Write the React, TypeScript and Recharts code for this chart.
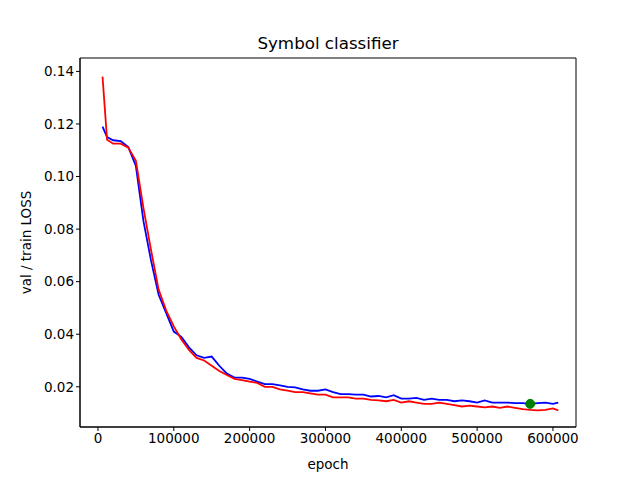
import React from 'react';
import {
  LineChart, Line, XAxis, YAxis, ReferenceDot, ReferenceArea, Label
} from 'recharts';

const epochs: number[] = [6000, 12000];
for (let e = 20000; e <= 600000; e += 10000) epochs.push(e);
epochs.push(607000);

const valLoss = [
  0.119, 0.115, 0.1138, 0.1135, 0.1112, 0.104, 0.083, 0.068, 0.055, 0.048,
  0.041, 0.039, 0.035, 0.032, 0.031, 0.0315, 0.028, 0.025, 0.0235, 0.0235,
  0.023, 0.022, 0.021, 0.021, 0.0205, 0.02, 0.0198, 0.019, 0.0185, 0.0185,
  0.019, 0.018, 0.0172, 0.0172, 0.017, 0.017, 0.0163, 0.0165, 0.016, 0.0168,
  0.0155, 0.0155, 0.0158, 0.015, 0.0155, 0.015, 0.015, 0.0145, 0.0148, 0.0145,
  0.014, 0.0148, 0.014, 0.014, 0.014, 0.0138, 0.0138, 0.0135, 0.0138, 0.014,
  0.0135, 0.014,
];

const trainLoss = [
  0.138, 0.114, 0.1125, 0.1125, 0.111, 0.106, 0.088, 0.072, 0.057, 0.049,
  0.043, 0.038, 0.034, 0.031, 0.03, 0.028, 0.026, 0.0245, 0.023, 0.0225,
  0.022, 0.0215, 0.02, 0.02, 0.019, 0.0185, 0.018, 0.018, 0.0175, 0.017,
  0.017, 0.016, 0.016, 0.016, 0.0155, 0.0155, 0.015, 0.0148, 0.0145, 0.015,
  0.014, 0.0145, 0.014, 0.0135, 0.0135, 0.014, 0.0135, 0.013, 0.0125, 0.0128,
  0.0125, 0.0122, 0.0125, 0.012, 0.0125, 0.012, 0.0115, 0.0112, 0.011, 0.0112,
  0.0118, 0.011,
];

const best = { epoch: 570000, loss: 0.0135 };
const xTicks = [0, 100000, 200000, 300000, 400000, 500000, 600000];
const yTicks = [0.02, 0.04, 0.06, 0.08, 0.1, 0.12, 0.14];

const data = epochs.map((epoch, i) => ({ epoch, val: valLoss[i], train: trainLoss[i] }));

const X_DOMAIN: [number, number] = [-23700, 630400];
const Y_DOMAIN: [number, number] = [0.0047, 0.1451];
const tickStyle = { fill: '#000', fontSize: 13.5 };

export default function App() {
  return (
    <div style={{ margin: -8, fontFamily: 'DejaVu Sans' }}>
      <LineChart width={640} height={480} data={data}
        margin={{ top: 58, right: 64, bottom: 23, left: 20 }}>
        <text x={328} y={49} textAnchor="middle" fontSize={16.7} fill="#000">Symbol classifier</text>
        <XAxis dataKey="epoch" type="number" domain={X_DOMAIN} ticks={xTicks}
          allowDataOverflow height={30} tick={tickStyle} stroke="#000"
          tickLine={{ stroke: '#000' }} tickSize={4}>
          <Label value="epoch" position="insideBottom" offset={-12} fill="#000" fontSize={13.5} />
        </XAxis>
        <YAxis type="number" domain={Y_DOMAIN} ticks={yTicks} allowDataOverflow width={60}
          tick={tickStyle} stroke="#000" tickSize={4} tickFormatter={(v: number) => v.toFixed(2)}>
          <Label value="val / train LOSS" angle={-90} position="insideLeft" offset={6}
            style={{ textAnchor: 'middle' }} fill="#000" fontSize={13.5} />
        </YAxis>
        <ReferenceArea x1={X_DOMAIN[0]} x2={X_DOMAIN[1]} y1={Y_DOMAIN[0]} y2={Y_DOMAIN[1]}
          fill="none" stroke="#000" strokeWidth={1} fillOpacity={0} />
        <Line dataKey="val" stroke="#0000ff" strokeWidth={1.8} dot={false} isAnimationActive={false} />
        <Line dataKey="train" stroke="#ff0000" strokeWidth={1.8} dot={false} isAnimationActive={false} />
        <ReferenceDot x={best.epoch} y={best.loss} r={4.5} fill="#008000" stroke="#008000" />
      </LineChart>
    </div>
  );
}
